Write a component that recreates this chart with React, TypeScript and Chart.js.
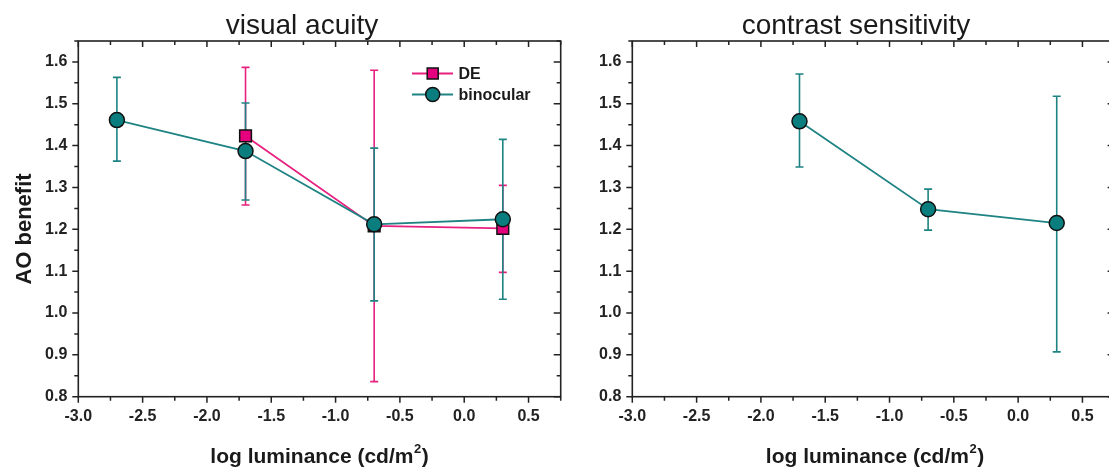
import React, { useEffect, useRef } from "react";
import { Chart, registerables } from "chart.js";

Chart.register(...registerables);

// ---------- data ----------
const visualAcuityTitle = "visual acuity";
const contrastTitle = "contrast sensitivity";
const xAxisTitleMain = "log luminance (cd/m";
const xAxisTitleSup = "2";
const xAxisTitleEnd = ")";
const yAxisTitle = "AO benefit";
const legendLabels = ["DE", "binocular"];

const vaBinX = [-2.7, -1.7, -0.7, 0.3];
const vaBinY = [1.461, 1.387, 1.212, 1.224];
const vaBinHi = [1.563, 1.502, 1.394, 1.415];
const vaBinLo = [1.363, 1.27, 1.029, 1.033];

const vaDEX = [-1.7, -0.7, 0.3];
const vaDEY = [1.423, 1.208, 1.202];
const vaDEHi = [1.587, 1.58, 1.305];
const vaDELo = [1.258, 0.836, 1.097];

const csBinX = [-1.7, -0.7, 0.3];
const csBinY = [1.458, 1.248, 1.215];
const csBinHi = [1.571, 1.296, 1.518];
const csBinLo = [1.349, 1.198, 0.907];

const X_MIN = -3.0;
const X_MAX = 0.75;
const X_STEP = 0.5;
const Y_MIN = 0.8;
const Y_MAX = 1.65;
const Y_STEP = 0.1;

// ---------- style ----------
const FONT = "'Liberation Sans', Arial, Helvetica, sans-serif";
const PINK = "#E8207F";
const PINK_FILL = "#E5007E";
const TEAL = "#1F8383";
const TEAL_FILL = "#0A7E7E";
const AXIS = "#222222";

const toPts = (xs: number[], ys: number[]) => xs.map((x, i) => ({ x, y: ys[i] }));

type ErrSet = { xs: number[]; hi: number[]; lo: number[]; color: string };

type PanelCfg = {
  title: string;
  titleX: number;
  xTitleX: number;
  showYTitle: boolean;
  showLegend: boolean;
  errs: ErrSet[];
};

function makeOverlay(cfg: PanelCfg) {
  return {
    id: "overlay",
    beforeDatasetsDraw(chart: any) {
      const ctx = chart.ctx;
      const xs = chart.scales.x;
      const ys = chart.scales.y;
      ctx.save();
      for (const e of cfg.errs) {
        ctx.strokeStyle = e.color;
        ctx.lineWidth = 1.6;
        e.xs.forEach((xv, i) => {
          const px = xs.getPixelForValue(xv);
          const pHi = ys.getPixelForValue(e.hi[i]);
          const pLo = ys.getPixelForValue(e.lo[i]);
          ctx.beginPath();
          ctx.moveTo(px, pHi);
          ctx.lineTo(px, pLo);
          ctx.moveTo(px - 4, pHi);
          ctx.lineTo(px + 4, pHi);
          ctx.moveTo(px - 4, pLo);
          ctx.lineTo(px + 4, pLo);
          ctx.stroke();
        });
      }
      ctx.restore();
    },
    afterDraw(chart: any) {
      const ctx = chart.ctx;
      const a = chart.chartArea;
      const xs = chart.scales.x;
      const ys = chart.scales.y;
      ctx.save();
      // frame
      ctx.strokeStyle = AXIS;
      ctx.lineWidth = 1.6;
      ctx.strokeRect(a.left, a.top, a.right - a.left, a.bottom - a.top);
      // x ticks (bottom outward, top inward)
      ctx.lineWidth = 1.5;
      const nx = Math.round((X_MAX - X_MIN) / 0.25);
      for (let i = 0; i <= nx; i++) {
        const v = X_MIN + i * 0.25;
        const px = xs.getPixelForValue(v);
        const major = i % 2 === 0;
        const len = major ? 6 : 4;
        ctx.beginPath();
        ctx.moveTo(px, a.bottom);
        ctx.lineTo(px, a.bottom + len);
        ctx.moveTo(px, a.top);
        ctx.lineTo(px, a.top + len);
        ctx.stroke();
      }
      // y ticks (left outward, right inward)
      const ny = Math.round((Y_MAX - Y_MIN) / 0.05);
      for (let i = 0; i <= ny; i++) {
        const v = Y_MIN + i * 0.05;
        const py = ys.getPixelForValue(v);
        const major = i % 2 === 0;
        const len = major ? 6 : 4;
        ctx.beginPath();
        ctx.moveTo(a.left, py);
        ctx.lineTo(a.left - len, py);
        ctx.moveTo(a.right, py);
        ctx.lineTo(a.right - (major ? 7 : 4), py);
        ctx.stroke();
      }
      // title
      ctx.fillStyle = "#1a1a1a";
      ctx.font = `normal 28px ${FONT}`;
      ctx.textAlign = "center";
      ctx.textBaseline = "alphabetic";
      ctx.fillText(cfg.title, cfg.titleX, 34);
      // x axis title with superscript
      ctx.font = `bold 21px ${FONT}`;
      const w1 = ctx.measureText(xAxisTitleMain).width;
      ctx.font = `bold 13px ${FONT}`;
      const w2 = ctx.measureText(xAxisTitleSup).width;
      ctx.font = `bold 21px ${FONT}`;
      const w3 = ctx.measureText(xAxisTitleEnd).width;
      const total = w1 + w2 + w3 + 1;
      let sx = cfg.xTitleX - total / 2;
      ctx.textAlign = "left";
      ctx.fillText(xAxisTitleMain, sx, 463);
      ctx.font = `bold 13px ${FONT}`;
      ctx.fillText(xAxisTitleSup, sx + w1 + 0.5, 453);
      ctx.font = `bold 21px ${FONT}`;
      ctx.fillText(xAxisTitleEnd, sx + w1 + w2 + 1, 463);
      // y axis title
      if (cfg.showYTitle) {
        ctx.save();
        ctx.translate(30.5, 229);
        ctx.rotate(-Math.PI / 2);
        ctx.textAlign = "center";
        ctx.font = `bold 22px ${FONT}`;
        ctx.fillText(yAxisTitle, 0, 0);
        ctx.restore();
      }
      // legend
      if (cfg.showLegend) {
        const rows = [
          { label: legendLabels[0], color: PINK, fill: PINK_FILL, shape: "rect", y: 73.5 },
          { label: legendLabels[1], color: TEAL, fill: TEAL_FILL, shape: "circle", y: 94.5 },
        ];
        for (const r of rows) {
          ctx.strokeStyle = r.color;
          ctx.lineWidth = 1.8;
          ctx.beginPath();
          ctx.moveTo(412, r.y);
          ctx.lineTo(453, r.y);
          ctx.stroke();
          ctx.fillStyle = r.fill;
          ctx.strokeStyle = "#111";
          ctx.lineWidth = 1.5;
          ctx.beginPath();
          if (r.shape === "rect") {
            ctx.rect(432.7 - 5.5, r.y - 5.5, 11, 11);
          } else {
            ctx.arc(432.7, r.y, 7, 0, Math.PI * 2);
          }
          ctx.fill();
          ctx.stroke();
          ctx.fillStyle = "#1a1a1a";
          ctx.font = `bold 16px ${FONT}`;
          ctx.textAlign = "left";
          ctx.textBaseline = "middle";
          ctx.fillText(r.label, 458.5, r.y + 1);
        }
      }
      ctx.restore();
    },
  };
}

function makeOptions(yAxisWidth: number, rightPad: number) {
  const tickFont = { family: FONT, size: 16, weight: "bold" as const };
  return {
    responsive: false,
    animation: false as const,
    events: [] as any[],
    layout: { padding: { top: 41, right: rightPad, left: 0, bottom: 0 } },
    plugins: { legend: { display: false }, tooltip: { enabled: false }, title: { display: false } },
    scales: {
      x: {
        type: "linear" as const,
        min: X_MIN,
        max: X_MAX,
        afterFit: (s: any) => {
          s.height = 73.3;
        },
        ticks: {
          stepSize: X_STEP,
          includeBounds: false,
          padding: 10.5,
          autoSkip: false,
          maxRotation: 0,
          color: AXIS,
          font: tickFont,
          callback: (v: any) => Number(v).toFixed(1),
        },
        grid: { display: true, drawOnChartArea: false, drawTicks: false, color: "rgba(0,0,0,0)" },
        border: { display: false },
      },
      y: {
        type: "linear" as const,
        min: Y_MIN,
        max: Y_MAX,
        afterFit: (s: any) => {
          s.width = yAxisWidth;
        },
        ticks: {
          stepSize: Y_STEP,
          includeBounds: false,
          padding: 11,
          autoSkip: false,
          color: AXIS,
          font: tickFont,
          callback: (v: any) => Number(v).toFixed(1),
        },
        grid: { display: true, drawOnChartArea: false, drawTicks: false, color: "rgba(0,0,0,0)" },
        border: { display: false },
      },
    },
  };
}

const binStyle = {
  borderColor: TEAL,
  borderWidth: 1.8,
  pointRadius: 7.5,
  pointStyle: "circle",
  pointBackgroundColor: TEAL_FILL,
  pointBorderColor: "#111",
  pointBorderWidth: 1.5,
  showLine: true,
  fill: false,
};

const deStyle = {
  borderColor: PINK,
  borderWidth: 1.8,
  pointRadius: 8.3,
  pointStyle: "rect",
  pointBackgroundColor: PINK_FILL,
  pointBorderColor: "#111",
  pointBorderWidth: 1.5,
  showLine: true,
  fill: false,
};

export default function App() {
  const leftRef = useRef<HTMLCanvasElement>(null);
  const rightRef = useRef<HTMLCanvasElement>(null);

  useEffect(() => {
    const left = new Chart(leftRef.current as HTMLCanvasElement, {
      type: "scatter",
      data: {
        datasets: [
          { label: legendLabels[1], data: toPts(vaBinX, vaBinY), ...binStyle } as any,
          { label: legendLabels[0], data: toPts(vaDEX, vaDEY), ...deStyle } as any,
        ],
      },
      options: makeOptions(78.3, 580 - 560.7) as any,
      plugins: [
        makeOverlay({
          title: visualAcuityTitle,
          titleX: 302,
          xTitleX: 319.5,
          showYTitle: true,
          showLegend: true,
          errs: [
            { xs: vaDEX, hi: vaDEHi, lo: vaDELo, color: PINK },
            { xs: vaBinX, hi: vaBinHi, lo: vaBinLo, color: TEAL },
          ],
        }),
      ],
    });
    const right = new Chart(rightRef.current as HTMLCanvasElement, {
      type: "scatter",
      data: {
        datasets: [{ label: legendLabels[1], data: toPts(csBinX, csBinY), ...binStyle } as any],
      },
      options: makeOptions(632.3 - 580, 560 - (1114.6 - 580)) as any,
      plugins: [
        makeOverlay({
          title: contrastTitle,
          titleX: 856 - 580,
          xTitleX: 875 - 580,
          showYTitle: false,
          showLegend: false,
          errs: [{ xs: csBinX, hi: csBinHi, lo: csBinLo, color: TEAL }],
        }),
      ],
    });
    return () => {
      left.destroy();
      right.destroy();
    };
  }, []);

  return (
    <div
      style={{
        position: "fixed",
        left: 0,
        top: 0,
        width: 1109,
        height: 470,
        overflow: "hidden",
        background: "#fff",
      }}
    >
      <canvas
        ref={leftRef}
        width={580}
        height={470}
        style={{ position: "absolute", left: 0, top: 0, width: 580, height: 470, display: "block" }}
      />
      <canvas
        ref={rightRef}
        width={560}
        height={470}
        style={{ position: "absolute", left: 580, top: 0, width: 560, height: 470, display: "block" }}
      />
    </div>
  );
}
